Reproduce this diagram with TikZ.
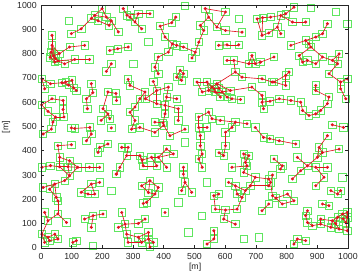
\documentclass[tikz,border=0pt]{standalone}
\usepackage{fontspec}
\setmainfont{Liberation Sans}
\usepackage{tikz}

\definecolor{sqgreen}{RGB}{95,230,95}
\definecolor{linkred}{RGB}{225,20,30}

% node positions in metres
\def\sensors{
A1/199/985, A2/164/945, A3/175/957, A4/186/935, A5/213/950, A6/222/916, A7/229/935, A8/131/902, A9/99/882, R0/252/889,
B1/268/985, B2/290/950, B3/317/964, B4/355/964, B5/306/930, B6/328/902, B7/280/958,
C1/388/913, C2/426/927, C3/439/950, C4/404/868, C5/428/840, C6/442/834, C7/464/827, C8/415/806, C9/382/786, C10/371/744, C11/382/717,
D1/535/985, D2/546/950, D3/519/916, D4/530/895, D5/573/909, D6/601/971, D7/601/895, D8/655/888, D9/514/847, D10/503/806, D11/492/782,
E1/704/943, E2/722/948, E3/720/875, E4/742/885, E5/748/950, E6/781/957, E7/797/964, E8/770/909, E9/781/882, E10/819/930, E11/862/930, E12/824/991,
F1/933/923, F2/917/882, F3/895/868, F4/862/854, F5/873/840, F6/879/827, F7/814/834, F8/841/792, F9/852/765, F10/868/772, F11/895/758, F12/917/786, F13/949/772, F14/966/758, F15/971/799, F16/938/717, F17/976/683, F18/998/696, F19/976/655, F20/993/614,
G1/579/834, G2/606/836, G3/644/836,
H1/606/772, H2/628/772, H3/633/724, H4/655/703, H5/687/792, H6/698/758, H7/715/765, H8/677/758, H9/720/696, H10/753/683, H11/759/786,
I1/508/683, I2/541/683, I3/557/662, I4/573/676, I5/546/648, I6/568/642, I7/590/642, I8/525/642, I9/584/621, I10/617/648, I11/606/621, I12/622/614, I13/650/611, I14/687/662, I15/564/655, I16/580/657,
J1/720/628, J2/720/600, J3/725/573, J4/746/604,
K1/808/724, K2/797/710, K3/797/669, K4/759/683,
L1/895/669, L2/895/648, L3/938/621, L4/933/594,
M1/776/614, M2/814/607, M3/846/600, M4/852/566, M5/873/545, M6/895/552, M7/911/566,
N1/546/559, N2/514/539, N3/557/532, N4/584/525, N5/633/518, N6/671/511,
O1/949/507, O2/985/496,
P1/36/875, P2/36/834, P3/33/806, P4/40/790, P5/47/780, P6/55/770, P7/45/765, P8/93/827, P9/142/834, P10/158/776, P11/110/776, P12/77/758, P13/60/800, P14/30/785,
Q1/224/813, Q2/250/820, Q3/284/827, Q4/229/758, Q5/213/727,
R1/3/696, R2/31/676, R3/68/680, R4/80/683, R5/101/690, R6/107/658, R7/115/648, R8/12/655, R9/90/670,
S1/164/676, S2/169/639, S3/148/614, S4/151/573,
T1/36/614, T2/72/607, T3/2/589, T4/23/562, T5/72/570, T6/47/539, T7/75/539, T8/39/518, T9/34/489, T10/7/469,
U1/218/642, U2/244/636, U3/246/607, U4/202/573, U5/218/552, U6/224/532, U7/196/525,
V1/284/694, V2/290/669, V3/339/642, V4/322/614, V5/340/614, V6/366/685, V7/377/648, V8/415/662, V9/409/621, V10/442/614, V11/377/594, V12/404/587, V13/447/573, V14/404/552, V15/306/580, V16/290/559, V17/306/525, V18/371/518, V19/398/515, V20/447/525,
W1/453/731, W2/464/717, W3/442/703, W4/458/690,
X1/99/494, X2/110/492, X3/159/496, X4/164/469, X5/148/441, X6/229/494, X7/218/428, X8/191/414, X9/186/393,
Y1/55/421, Y2/99/425, Y3/61/373, Y4/93/359, Y5/61/334, Y6/88/334, Y7/120/332, Y8/158/332, Y9/191/332, Y10/3/332, Y11/31/339, Y12/93/297, Y13/77/277, Y14/45/263, Y15/7/249, Y16/28/242, Y17/50/208, Y18/55/194, Y19/245/304,
Z1/164/263, Z2/191/270, Z3/131/229, Z4/153/222, Z5/175/222,
AA1/12/146, AA2/55/140, AA3/23/112, AA4/83/105, AA5/3/57, AA6/23/44, AA7/45/57, AA8/28/30, AA9/55/37, AA10/12/23,
AB1/142/119, AB2/170/133, AB3/202/140, AB4/164/85,
AC1/104/23, AC2/115/30,
AD1/295/489, AD2/322/496, AD3/371/476, AD4/400/505, AD5/420/462, AD6/469/489,
AE1/263/414, AE2/284/414, AE3/279/380, AE4/322/380, AE5/330/362, AE6/360/373, AE7/382/373, AE8/409/407, AE9/431/387, AE10/333/338, AE11/377/338, AE12/409/332, AE13/257/332, AE14/246/304,
AF1/464/332, AF2/464/304, AF3/469/270, AF4/458/236, AF5/491/229,
AG1/355/277, AG2/382/249, AG3/328/256, AG4/371/222, AG5/344/188, AG6/333/183, AG7/350/228,
AH1/263/146, AH2/274/98, AH3/252/85, AH4/317/101, AH5/339/119, AH6/279/57, AH7/350/64, AH8/317/44, AH9/284/23, AH10/328/23, AH11/350/37, AH12/366/23, AH13/355/4,
AI1/514/496, AI2/541/496, AI3/519/462, AI4/519/421, AI5/525/387, AI6/514/366, AI7/525/332,
AJ1/622/496, AJ2/601/476, AJ3/601/421, AJ4/595/380, AJ5/580/392,
AK1/698/496, AK2/725/455,
AL1/660/387, AL2/677/380, AL3/666/352, AL4/671/338, AL5/622/332, AL6/660/311, AL7/698/291, AL8/742/284,
AM1/611/270, AM2/633/256, AM3/639/222, AM4/655/208, AM5/666/236, AM6/682/256, AM7/742/256,
AN1/579/222, AN2/563/215, AN3/568/160, AN4/601/156, AN5/639/160, AN6/595/119, AN7/633/98,
AO1/720/153, AO2/742/181,
AP1/563/71, AP2/563/37, AP3/541/16,
AQ1/776/441, AQ3/830/428, AQ4/745/450,
AR1/933/462, AR2/906/414, AR3/917/393, AR4/971/407, AR5/900/373, AR6/835/373, AR7/846/318, AR8/868/338, AR9/895/332, AR10/933/332, AR11/922/291, AR12/895/256, AR13/819/284,
AS1/759/366, AS2/786/338, AS3/780/325, AS4/754/300, AS5/748/270, AS6/754/215, AS7/765/205, AS8/786/181, AS9/803/222, AS10/824/194,
AT1/944/236, AT2/966/222, AT3/976/236,
AU1/917/181, AU2/938/174,
AV1/868/153, AV2/862/133, AV3/868/105, AV4/884/92, AV5/911/98, AV6/911/119, AV7/949/112, AV8/966/126, AV9/982/140, AV10/998/126, AV11/998/146, AV12/944/85, AV13/971/78, AV14/998/71, AV15/993/105, AV16/960/100, AV17/985/120,
AW1/835/37, AW2/862/30, AW3/824/16,
AX1/404/146}

% squares without a link
\def\lones{90/934, 469/996, 350/847, 301/758, 644/943, 879/987, 960/971, 998/923, 469/435, 447/188, 229/236, 170/9, 480/64, 541/270, 525/133, 660/37, 709/44, 982/291}

% radio links
\def\links{
A1/A3, A3/A2, A2/A4, A1/A5, A5/A7, A7/A6, A4/A6, A2/A8, A8/A9, A3/A5, A7/R0,
B1/B7, B7/B2, B7/B3, B3/B4, B2/B5, B5/B6, B3/B5,
C1/C2, C2/C3, C1/C4, C4/C5, C5/C6, C6/C7, C5/C8, C8/C9, C9/C10, C10/C11, C7/D10,
D1/D2, D2/D3, D3/D4, D2/D5, D5/D6, D5/D7, D7/D8, D4/D9, D9/D10, D10/D11, D1/D6,
E1/E2, E2/E5, E5/E6, E6/E7, E7/E12, E6/E8, E8/E9, E6/E10, E10/E11, E2/E3, E3/E4, E4/E8, E1/E3,
F1/F2, F2/F3, F3/F4, F4/F5, F5/F6, F4/F7, F6/F8, F8/F9, F9/F10, F10/F11, F11/F12, F12/F13, F13/F14, F14/F15, F13/F15, F14/F16, F16/F17, F17/F18, F17/F19, F19/F20, F6/F12,
G1/G2, G2/G3,
H1/H2, H2/H3, H3/H4, H2/H8, H8/H5, H5/H6, H6/H7, H8/H6, H7/H11, H4/H9, H9/H10,
I1/I2, I2/I3, I3/I4, I3/I5, I5/I6, I6/I7, I5/I8, I8/I1, I6/I9, I7/I10, I7/I11, I11/I12, I12/I13, I10/I14, I3/I15, I15/I16, I16/I4, I15/I6, I16/I7, I4/I10, I2/I5, I4/H3,
J1/J2, J2/J3, J2/J4, I14/J1, J4/M1,
K1/K2, K2/K3, K3/K4, K2/K4,
L1/L2, L2/L3, L3/L4,
M1/M2, M2/M3, M3/M4, M4/M5, M5/M6, M6/M7, M7/L4,
N1/N2, N1/N3, N3/N4, N4/N5, N5/N6, O1/O2,
P1/P2, P2/P3, P2/P4, P2/P5, P3/P14, P4/P13, P5/P6, P6/P7, P4/P7, P14/P7, P13/P8, P8/P9, P6/P11, P11/P10, P6/P12, P12/P11, P3/P5, P2/P13,
Q1/Q2, Q2/Q3, Q4/Q5,
R1/R2, R2/R3, R3/R4, R4/R5, R5/R6, R6/R7, R1/R8, R4/R9, R9/R6, R3/R9,
S1/S2, S2/S3, S3/S4,
T1/T2, T1/T3, T3/T4, T2/T5, T5/T7, T4/T6, T6/T8, T8/T9, T7/T6, T9/T10,
U1/U2, U2/U3, U1/U4, U4/U5, U5/U6, U5/U7,
V1/V2, V2/V3, V3/V4, V3/V5, V5/V7, V7/V6, V7/V8, V8/V9, V9/V10, V7/V11, V11/V12, V12/V9, V12/V13, V12/V14, V4/V15, V15/V16, V16/V17, V11/V5, V14/V19, V19/V18, V13/V20, V17/AD1,
W1/W2, W2/W4, W3/W4, W1/W3,
X1/X2, X2/X3, X3/X4, X4/X5, X8/X7, X8/X9,
Y1/Y2, Y1/Y3, Y3/Y5, Y3/Y4, Y4/Y6, Y4/Y7, Y5/Y6, Y6/Y7, Y7/Y8, Y8/Y9, Y10/Y11, Y11/Y5, Y6/Y12, Y7/Y12, Y12/Y13, Y13/Y14, Y14/Y15, Y14/Y16, Y16/Y17, Y17/Y18, Y14/Y17, Y5/Y12,
Z1/Z2, Z1/Z3, Z3/Z4, Z1/Z5, Z4/Z5,
Y18/AA2, AA1/AA3, AA2/AA3, AA2/AA4, AA3/AA5, AA5/AA6, AA6/AA7, AA6/AA8, AA8/AA9, AA7/AA9, AA5/AA10,
AB1/AB2, AB2/AB3, AB2/AB4, AC1/AC2,
AD1/AD2, AD2/AD3, AD3/AD4, AD4/AD5, AD5/AD6,
AE1/AE2, AE2/AE3, AE3/AE4, AE4/AE5, AE5/AE6, AE6/AE7, AE7/AE8, AE8/AE9, AE7/AE9, AE4/AE10, AE5/AE10, AE10/AE11, AE6/AE11, AE7/AE12, AE3/AE13, AE13/AE14, AE14/Y19,
AF1/AF2, AF2/AF3, AF3/AF4, AF3/AF5,
AG1/AG2, AG2/AG4, AG4/AG5, AG5/AG6, AG3/AG1, AG3/AG7, AG7/AG4, AG7/AG1,
AH1/AH2, AH2/AH3, AH2/AH4, AH4/AH5, AH2/AH6, AH6/AH9, AH6/AH8, AH8/AH10, AH8/AH7, AH7/AH11, AH11/AH12, AH11/AH13, AH10/AH11, AH9/AH10,
AI1/AI2, AI1/AI3, AI3/AI4, AI4/AI5, AI5/AI6, AI6/AI7, N2/AI1,
AJ2/AJ3, AJ3/AJ4, AJ4/AJ5, N5/AJ1, AJ1/AJ2,
AK1/AK2, AK2/AQ4, AQ4/AQ1, AQ1/AQ3,
AL1/AL2, AL1/AL3, AL2/AL3, AL3/AL4, AL4/AL5, AL4/AL6, AL6/AL7, AL7/AL8,
AM1/AM2, AM2/AM3, AM3/AM4, AM2/AM5, AM5/AM6, AM6/AL7, AM4/AM5, AM6/AM7,
AN1/AN2, AN2/AN3, AN3/AN4, AN4/AN5, AN4/AN6, AN6/AN7, AN5/AM4,
AO1/AO2, AP1/AP2, AP2/AP3,
AR1/AR2, AR2/AR3, AR3/AR4, AR3/AR5, AR5/AR8, AR6/AR8, AR8/AR7, AR8/AR9, AR9/AR10, AR9/AR11, AR11/AR12, AR7/AR13, AR2/AR5,
AS1/AS2, AS2/AS3, AL8/AS5, AS4/AS5, AS5/AS6, AS6/AS7, AS7/AS8, AS7/AS9, AS9/AS10, AS8/AS10, AM7/AS5,
AT1/AT2, AT2/AT3, AU1/AU2,
AV1/AV2, AV2/AV3, AV3/AV4, AV4/AV5, AV5/AV6, AV6/AV7, AV7/AV8, AV8/AV9, AV9/AV10, AV10/AV11, AV9/AV11, AV7/AV12, AV12/AV13, AV13/AV14, AV14/AV15, AV15/AV10, AV16/AV7, AV16/AV13, AV17/AV8, AV17/AV15, AV5/AV12, AV8/AV16,
AW1/AW2, AW1/AW3}

\begin{document}
\begin{tikzpicture}[x=.00921cm,y=.00729cm,font=\fontsize{7.5}{8}\selectfont,
 sensor/.style={rectangle,draw=sqgreen,line width=.6pt,minimum size=2.2mm,inner sep=0pt},
 lone/.style={sensor},
 link/.style={draw=linkred,line width=.55pt},
 axisline/.style={draw=black!85,line width=.5pt},
 ticklabel/.style={inner sep=0pt,text=black!85}]
 \useasboundingbox (-133.5,-119.3) rectangle (1048.9,1020.6);
 % sensors and isolated squares
 \foreach \n/\x/\y in \sensors \node[sensor] (\n) at (\x,\y) {};
 \foreach \x/\y [count=\i] in \lones \node[lone] (iso\i) at (\x,\y) {};
 % links between neighbours
 \foreach \a/\b in \links \draw[link] (\a.center) -- (\b.center);
 \foreach \n/\x/\y in \sensors \fill[linkred] (\n.center) circle (.5mm);
 % axes box and ticks
 \draw[axisline] (0,0) rectangle (1000,1000);
 \foreach \tk in {0,100,...,1000} {
   \draw[axisline] (\tk,0) -- (\tk,12);
   \draw[axisline] (\tk,1000) -- (\tk,988);
   \draw[axisline] (0,\tk) -- (10,\tk);
   \draw[axisline] (1000,\tk) -- (990,\tk);
   \node[ticklabel,anchor=east] (yl\tk) at (-13,\tk) {\tk};
   \node[ticklabel,anchor=north] (xl\tk) at (\tk,-20) {\tk};
 }
 \node[ticklabel] (xlab) at (502,-78) {[m]};
 \node[ticklabel,rotate=90] (ylab) at (-114,498) {[m]};
\end{tikzpicture}
\end{document}
